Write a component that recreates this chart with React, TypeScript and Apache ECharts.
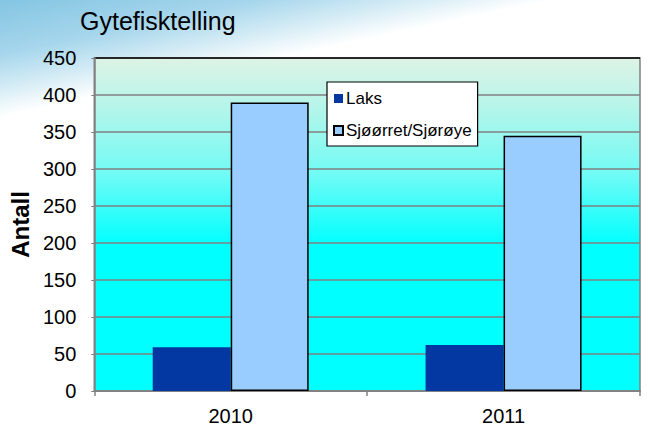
import React, { useEffect, useRef } from "react";
import * as echarts from "echarts";

const categories = ["2010", "2011"];
const laks = [59, 62];
const sjoorret = [390, 345];
const seriesNames = ["Laks", "Sjøørret/Sjørøye"];
const yTicks = { min: 0, max: 450, interval: 50 };

export default function App() {
  const ref = useRef<HTMLDivElement>(null);
  useEffect(() => {
    document.body.style.margin = "0";
    const chart = echarts.init(ref.current!, undefined, { renderer: "svg" });
    const font = "'Liberation Sans', Arial, sans-serif";
    const splitColors = ["#808080", "#808080", "#808080", "#808080", "#808080", "#808080", "#808080", "#808080", "#808080", "#000000"];
    chart.setOption({
      animation: false,
      graphic: [
        {
          type: "rect",
          z: -100,
          silent: true,
          shape: { x: 0, y: 0, width: 649, height: 426 },
          style: {
            fill: {
              type: "linear",
              x: 0,
              y: 0,
              x2: 110,
              y2: 520,
              global: true,
              colorStops: [
                { offset: 0, color: "#84C5E2" },
                { offset: 0.1, color: "#A6D6EC" },
                { offset: 0.16, color: "#D3EBF5" },
                { offset: 0.215, color: "#FFFFFF" },
                { offset: 1, color: "#FFFFFF" },
              ],
            },
          },
        },
      ],
      title: {
        text: "Gytefisktelling",
        left: 75,
        top: 3,
        textStyle: { fontFamily: font, fontSize: 25, fontWeight: "normal", color: "#000" },
      },
      legend: {
        orient: "vertical",
        left: 327,
        top: 82,
        padding: [8, 6, 7, 6],
        itemGap: 15,
        itemWidth: 9,
        itemHeight: 9,
        icon: "rect",
        backgroundColor: "#fff",
        borderColor: "#000",
        borderWidth: 1.2,
        borderRadius: 0,
        textStyle: { fontFamily: font, fontSize: 17, color: "#000", padding: [0, 0, 0, -2] },
        data: seriesNames,
      },
      grid: {
        show: true,
        left: 94,
        right: 9,
        top: 58,
        bottom: 34,
        borderColor: "#808080",
        borderWidth: 1.5,
        backgroundColor: {
          type: "linear",
          x: 0,
          y: 0,
          x2: 0,
          y2: 1,
          colorStops: [
            { offset: 0, color: "#DDF3E5" },
            { offset: 0.15, color: "#B5F5EA" },
            { offset: 0.35, color: "#70FBF5" },
            { offset: 0.56, color: "#00FFFF" },
            { offset: 1, color: "#00FFFF" },
          ],
        },
      },
      xAxis: {
        type: "category",
        data: categories,
        axisLine: { lineStyle: { color: "#808080", width: 1.5 } },
        axisTick: { show: true, length: 5, lineStyle: { color: "#808080", width: 1.5 } },
        axisLabel: { fontFamily: font, fontSize: 20, color: "#000", margin: 15 },
      },
      yAxis: {
        type: "value",
        min: yTicks.min,
        max: yTicks.max,
        interval: yTicks.interval,
        name: "Antall",
        nameLocation: "middle",
        nameGap: 60,
        nameTextStyle: { fontFamily: font, fontSize: 24, fontWeight: "bold", color: "#000" },
        axisLine: { show: true, lineStyle: { color: "#808080", width: 1.5 } },
        axisTick: { show: true, length: 3, lineStyle: { color: "#808080" } },
        axisLabel: { fontFamily: font, fontSize: 20, color: "#000", margin: 18 },
        splitLine: { show: true, lineStyle: { color: splitColors, width: 1.5 } },
      },
      series: [
        {
          name: seriesNames[0],
          type: "bar",
          data: laks,
          barWidth: 78,
          barGap: "0%",
          itemStyle: { color: "#0338A2" },
        },
        {
          name: seriesNames[1],
          type: "bar",
          data: sjoorret,
          barWidth: 78,
          itemStyle: { color: "#99CCFF", borderColor: "#000", borderWidth: 1.5 },
        },
      ],
    });
    return () => chart.dispose();
  }, []);
  return <div ref={ref} style={{ width: 649, height: 426 }} />;
}
